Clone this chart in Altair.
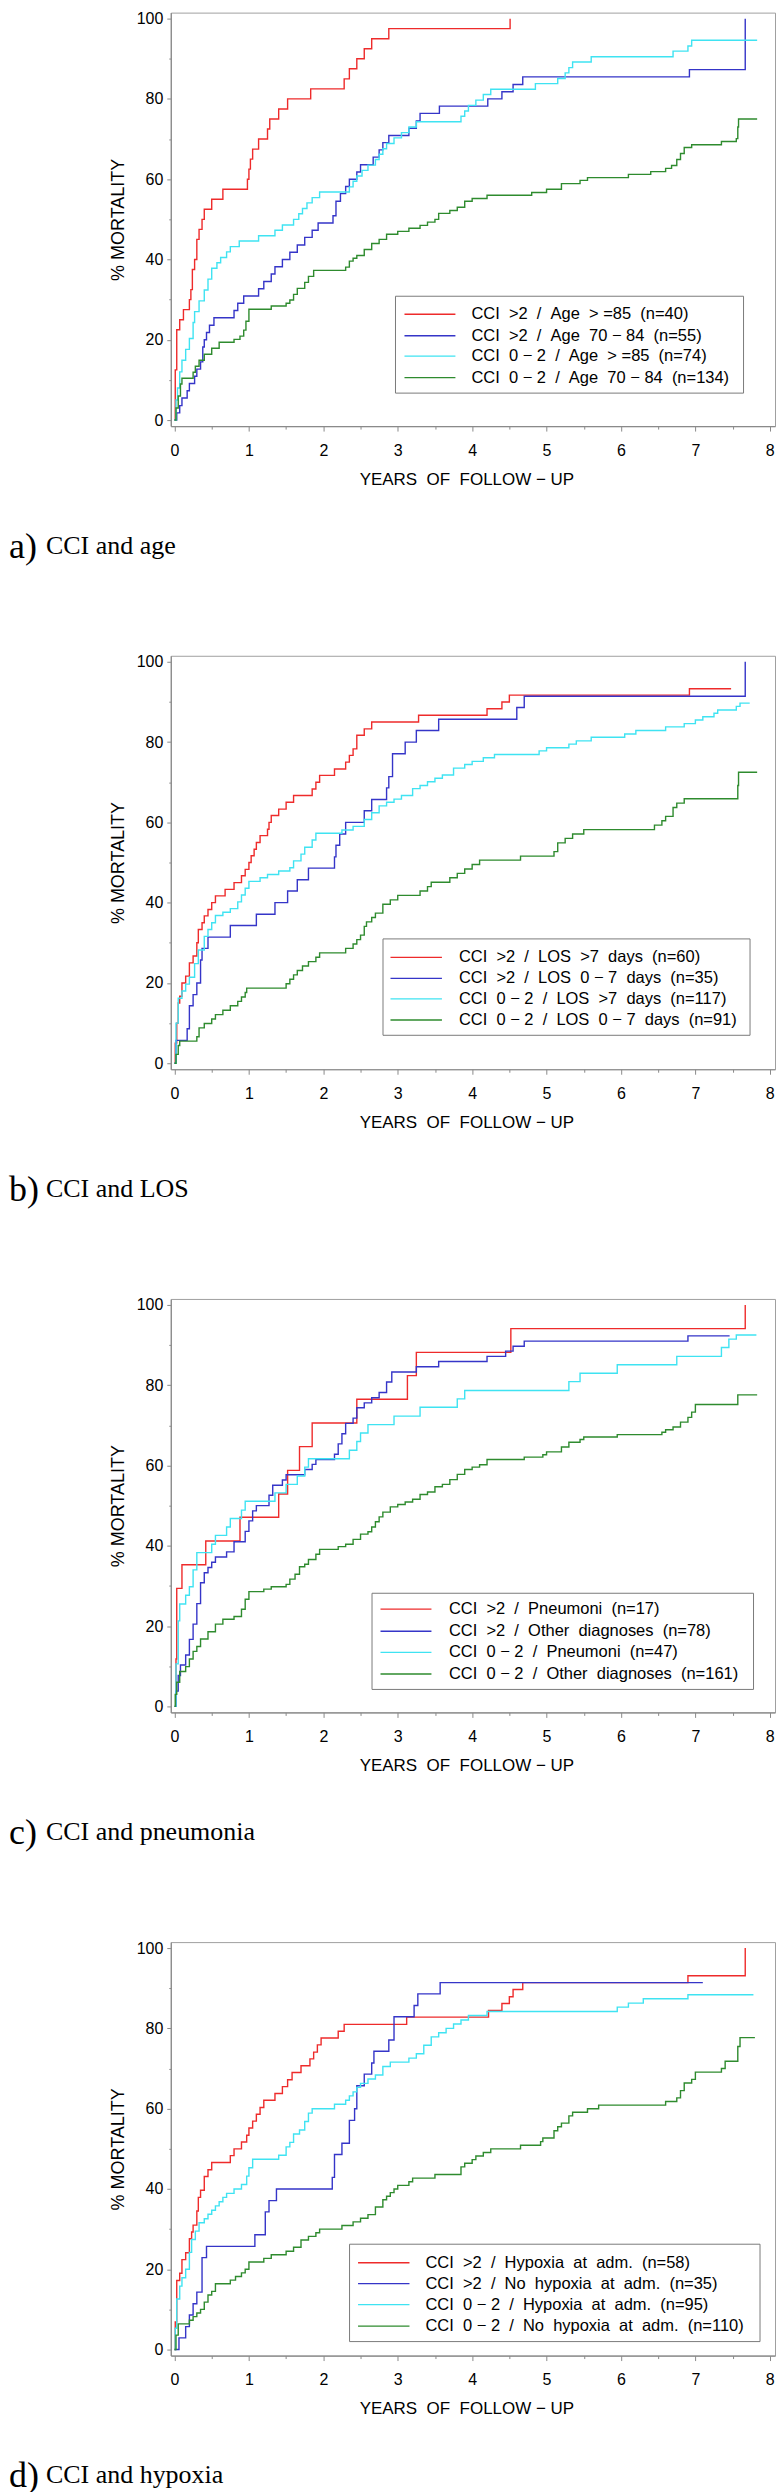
import altair as alt
import pandas as pd

# ---------------- data ----------------
COLORS = ["#EE2B2B", "#3535C8", "#3FE3F2", "#2E8B2E"]

# Panel a: CCI and age
A_LABELS = ["CCI  >2  /  Age  > =85  (n=40)", "CCI  >2  /  Age  70 − 84  (n=55)",
            "CCI  0 − 2  /  Age  > =85  (n=74)", "CCI  0 − 2  /  Age  70 − 84  (n=134)"]
A_RED_T = [0, 0.01, 0.03, 0.07, 0.12, 0.20, 0.22, 0.24, 0.27, 0.30, 0.33, 0.37, 0.40, 0.50, 0.65, 0.98, 1.00, 1.02, 1.05, 1.13, 1.25, 1.28, 1.40, 1.52, 1.83, 2.28, 2.35, 2.45, 2.55, 2.65, 2.88, 4.51]
A_RED_M = [0, 12.5, 22.5, 25, 27.5, 30, 32.5, 37.5, 40, 45, 47.5, 50, 52.5, 55, 57.5, 60, 62.5, 65, 67.5, 70, 72.5, 75, 77.5, 80, 82.5, 85, 87.5, 90, 92.5, 95, 97.5, 100]
A_BLUE_T = [0, 0.03, 0.07, 0.10, 0.17, 0.20, 0.27, 0.30, 0.35, 0.38, 0.40, 0.43, 0.47, 0.53, 0.80, 0.85, 0.93, 1.13, 1.20, 1.30, 1.35, 1.45, 1.55, 1.65, 1.75, 1.85, 1.93, 2.13, 2.17, 2.23, 2.30, 2.35, 2.45, 2.50, 2.67, 2.75, 2.80, 2.88, 3.15, 3.25, 3.30, 3.56, 4.21, 4.40, 4.55, 4.68, 6.92, 7.67]
A_BLUE_M = [0, 1.8, 3.6, 5.5, 7.3, 9.1, 10.9, 12.7, 14.5, 18.2, 20.0, 21.8, 23.6, 25.5, 27.3, 29.1, 30.9, 32.7, 34.5, 36.4, 38.2, 40.0, 41.8, 43.6, 45.5, 47.3, 49.1, 50.9, 54.5, 56.4, 58.2, 60.0, 61.8, 63.6, 65.5, 67.3, 69.1, 70.9, 72.7, 74.5, 76.4, 78.2, 80.0, 81.8, 83.6, 85.5, 87.3, 100]
A_CYAN_T = [0, 0.02, 0.04, 0.07, 0.10, 0.15, 0.20, 0.25, 0.27, 0.33, 0.40, 0.45, 0.50, 0.57, 0.62, 0.70, 0.75, 0.87, 1.13, 1.35, 1.45, 1.60, 1.67, 1.72, 1.78, 1.85, 1.95, 2.35, 2.40, 2.45, 2.52, 2.60, 2.70, 2.75, 2.80, 2.85, 2.95, 3.05, 3.15, 3.25, 3.85, 3.90, 3.95, 4.05, 4.15, 4.25, 4.85, 5.15, 5.25, 5.30, 5.35, 5.60, 6.70, 6.90, 6.95, 7.83]
A_CYAN_M = [0, 5, 8, 12, 14.9, 17.6, 20.3, 24.3, 27, 29.7, 32.4, 35.1, 37.8, 39.2, 40.5, 41.9, 43.2, 44.6, 45.9, 47.3, 48.6, 50.0, 51.4, 52.7, 54.1, 55.4, 56.8, 58.1, 59.5, 60.8, 62.2, 63.5, 64.9, 66.2, 67.6, 68.9, 70.3, 71.6, 73.0, 74.3, 75.7, 77.0, 78.4, 79.7, 81.1, 82.4, 83.8, 85.1, 86.5, 87.8, 89.2, 90.5, 91.9, 93.2, 94.6, 94.6]
A_GREEN_T = [0, 0.02, 0.05, 0.08, 0.10, 0.25, 0.28, 0.33, 0.40, 0.50, 0.60, 0.80, 0.88, 0.93, 0.96, 1.00, 1.30, 1.50, 1.55, 1.60, 1.65, 1.75, 1.80, 1.87, 2.30, 2.35, 2.40, 2.45, 2.55, 2.65, 2.75, 2.85, 3.00, 3.15, 3.30, 3.40, 3.50, 3.55, 3.70, 3.80, 3.90, 4.00, 4.20, 4.80, 5.00, 5.20, 5.45, 5.55, 6.10, 6.40, 6.60, 6.68, 6.75, 6.80, 6.85, 6.95, 7.35, 7.55, 7.57, 7.58, 7.83]
A_GREEN_M = [0, 3, 6, 9, 10.4, 11.9, 13.4, 14.9, 16.4, 17.9, 19.4, 20.1, 20.9, 22.4, 24.6, 27.6, 28.4, 29.1, 29.9, 31.3, 32.8, 34.3, 35.8, 37.3, 38.1, 39.6, 40.3, 41.0, 42.5, 44.0, 45.0, 46.3, 47.0, 47.8, 48.5, 49.3, 50.0, 51.5, 52.2, 53.0, 54.5, 55.2, 56.0, 56.7, 57.5, 58.9, 59.7, 60.4, 61.2, 61.9, 62.7, 63.4, 64.9, 66.4, 67.9, 68.6, 69.4, 70.1, 73.0, 75.0, 75.0]

# Panel b: CCI and LOS
B_LABELS = ["CCI  >2  /  LOS  >7  days  (n=60)", "CCI  >2  /  LOS  0 − 7  days  (n=35)",
            "CCI  0 − 2  /  LOS  >7  days  (n=117)", "CCI  0 − 2  /  LOS  0 − 7  days  (n=91)"]
B_RED_T = [0, 0.01, 0.03, 0.05, 0.07, 0.10, 0.15, 0.20, 0.25, 0.30, 0.32, 0.37, 0.40, 0.45, 0.50, 0.55, 0.68, 0.80, 0.90, 0.95, 1.00, 1.03, 1.07, 1.10, 1.15, 1.25, 1.27, 1.30, 1.40, 1.50, 1.60, 1.85, 1.90, 1.95, 2.15, 2.30, 2.35, 2.40, 2.45, 2.55, 2.65, 3.28, 4.20, 4.40, 4.50, 6.92, 7.48]
B_RED_M = [0, 5, 10, 15, 16.7, 20, 21.7, 25, 26.7, 30, 33.3, 35, 36.7, 38.3, 40, 41.7, 43.3, 45, 46.7, 48.3, 50, 51.7, 53.3, 55, 56.7, 58.3, 60, 61.7, 63.3, 65, 66.7, 68.3, 70, 71.7, 73.3, 75, 76.7, 78.3, 81.7, 83.3, 85, 86.7, 88.3, 90, 91.7, 93.3, 93.3]
B_BLUE_T = [0, 0.02, 0.17, 0.20, 0.25, 0.30, 0.35, 0.37, 0.45, 0.75, 1.10, 1.35, 1.52, 1.65, 1.80, 2.15, 2.17, 2.22, 2.30, 2.55, 2.65, 2.85, 2.88, 2.93, 3.10, 3.25, 3.55, 4.60, 4.70, 7.67]
B_BLUE_M = [0, 5.7, 8.6, 14.3, 17.1, 20.0, 25.7, 28.6, 31.4, 34.3, 37.1, 40.0, 42.9, 45.7, 48.6, 51.4, 54.3, 57.1, 60.0, 62.9, 65.7, 68.6, 71.4, 77.1, 80.0, 82.9, 85.7, 88.6, 91.4, 100]
B_CYAN_T = [0, 0.02, 0.05, 0.10, 0.15, 0.20, 0.27, 0.32, 0.40, 0.45, 0.50, 0.55, 0.65, 0.75, 0.85, 0.90, 0.95, 1.00, 1.15, 1.25, 1.40, 1.55, 1.60, 1.70, 1.75, 1.85, 1.90, 2.25, 2.40, 2.55, 2.65, 2.75, 2.85, 2.95, 3.05, 3.20, 3.30, 3.40, 3.50, 3.60, 3.75, 3.90, 4.00, 4.15, 4.30, 4.90, 5.00, 5.30, 5.40, 5.60, 6.05, 6.20, 6.60, 6.85, 7.00, 7.10, 7.25, 7.30, 7.55, 7.60, 7.73]
B_CYAN_M = [0, 10, 16.2, 18, 19.7, 21.4, 24.8, 28.2, 31.6, 33.3, 35.0, 36.8, 37.6, 38.5, 40.2, 41.9, 43.6, 45.3, 46.2, 47.0, 47.9, 48.7, 50.4, 52.1, 53.8, 55.6, 57.3, 58.1, 59.0, 60.7, 62.4, 64.1, 65.0, 65.8, 66.7, 68.4, 69.2, 70.1, 71.0, 71.8, 73.5, 74.4, 75.2, 76.1, 76.9, 77.8, 78.6, 79.5, 80.3, 81.2, 82.0, 82.9, 83.8, 84.6, 85.5, 86.3, 87.2, 88.0, 88.9, 89.7, 89.7]
B_GREEN_T = [0, 0.02, 0.05, 0.07, 0.30, 0.33, 0.40, 0.50, 0.55, 0.65, 0.75, 0.85, 0.90, 0.95, 0.97, 1.50, 1.55, 1.60, 1.65, 1.72, 1.80, 1.90, 1.95, 2.30, 2.40, 2.45, 2.50, 2.55, 2.58, 2.65, 2.70, 2.80, 2.90, 3.00, 3.30, 3.40, 3.45, 3.70, 3.80, 3.90, 4.00, 4.10, 4.65, 5.10, 5.15, 5.25, 5.35, 5.50, 6.45, 6.55, 6.60, 6.70, 6.75, 6.85, 7.57, 7.58, 7.83]
B_GREEN_M = [0, 2.2, 4.4, 5.5, 6.6, 8.8, 9.9, 11.0, 12.1, 13.2, 14.3, 15.4, 16.5, 17.6, 18.7, 19.8, 20.9, 22.0, 23.1, 24.2, 25.3, 26.4, 27.5, 28.6, 29.7, 30.8, 31.9, 34.1, 35.2, 36.3, 37.4, 39.6, 40.7, 41.8, 42.9, 44.0, 45.1, 46.2, 47.3, 48.4, 49.5, 50.6, 51.6, 52.7, 54.9, 56.0, 57.1, 58.2, 59.3, 60.4, 61.5, 63.7, 64.8, 65.9, 69.2, 72.5, 72.5]

# Panel c: CCI and pneumonia
C_LABELS = ["CCI  >2  /  Pneumoni  (n=17)", "CCI  >2  /  Other  diagnoses  (n=78)",
            "CCI  0 − 2  /  Pneumoni  (n=47)", "CCI  0 − 2  /  Other  diagnoses  (n=161)"]
C_RED_T = [0, 0.02, 0.03, 0.10, 0.42, 0.88, 1.40, 1.52, 1.68, 1.85, 2.45, 3.13, 3.25, 4.52, 7.67]
C_RED_M = [0, 11.8, 29.4, 35.3, 41.2, 47.1, 52.9, 58.8, 64.7, 70.6, 76.5, 82.4, 88.2, 94.1, 100]
C_BLUE_T = [0, 0.02, 0.05, 0.08, 0.15, 0.20, 0.25, 0.30, 0.35, 0.40, 0.45, 0.50, 0.55, 0.70, 0.80, 0.95, 1.00, 1.05, 1.10, 1.27, 1.32, 1.45, 1.50, 1.75, 1.85, 1.90, 2.15, 2.20, 2.25, 2.30, 2.40, 2.45, 2.55, 2.65, 2.75, 2.85, 2.92, 3.25, 3.55, 4.20, 4.45, 4.55, 4.70, 6.90, 7.46]
C_BLUE_M = [0, 3.8, 7.7, 10.3, 12.8, 16.7, 20.5, 25.6, 30.8, 33.3, 34.6, 35.9, 37.2, 38.5, 41.0, 43.6, 46.2, 48.7, 50.0, 52.6, 55.1, 56.4, 57.7, 59.0, 60.3, 61.5, 62.8, 65.4, 67.9, 70.5, 71.8, 74.4, 75.6, 76.9, 78.2, 80.8, 83.3, 84.6, 85.9, 87.2, 88.5, 89.7, 91.0, 92.3, 92.3]
C_CYAN_T = [0, 0.02, 0.05, 0.07, 0.15, 0.20, 0.25, 0.30, 0.50, 0.55, 0.70, 0.75, 0.90, 0.95, 1.35, 1.50, 1.65, 1.75, 1.80, 2.35, 2.45, 2.50, 2.60, 2.95, 3.30, 3.80, 3.90, 5.30, 5.45, 5.95, 6.75, 7.35, 7.45, 7.55, 7.82]
C_CYAN_M = [0, 10.6, 21.3, 25.5, 27.7, 29.8, 34.0, 38.3, 40.4, 42.6, 44.7, 46.8, 48.9, 51.1, 53.2, 55.3, 57.4, 59.6, 61.7, 63.8, 66.0, 68.1, 70.2, 72.3, 74.5, 76.6, 78.7, 80.9, 83.0, 85.1, 87.2, 89.4, 91.5, 92.5, 92.5]
C_GREEN_T = [0, 0.01, 0.03, 0.07, 0.15, 0.20, 0.25, 0.30, 0.35, 0.45, 0.55, 0.65, 0.80, 0.90, 0.95, 1.00, 1.20, 1.30, 1.50, 1.55, 1.62, 1.68, 1.75, 1.80, 1.90, 1.95, 2.20, 2.30, 2.40, 2.50, 2.60, 2.65, 2.70, 2.75, 2.80, 2.90, 3.00, 3.10, 3.20, 3.30, 3.40, 3.50, 3.60, 3.70, 3.80, 3.90, 4.00, 4.10, 4.20, 4.70, 4.95, 5.00, 5.20, 5.30, 5.45, 5.50, 5.95, 6.55, 6.60, 6.70, 6.80, 6.90, 6.95, 7.00, 7.57, 7.83]
C_GREEN_M = [0, 3.0, 6.0, 8.7, 9.9, 11.8, 13.7, 14.9, 16.8, 18.6, 20.5, 21.7, 22.4, 24.2, 26.7, 28.6, 29.2, 29.8, 30.4, 31.7, 32.9, 34.8, 35.4, 36.6, 37.9, 39.1, 39.8, 40.4, 41.6, 42.9, 43.5, 44.7, 46.0, 47.2, 48.4, 49.7, 50.3, 50.9, 51.6, 52.8, 53.4, 54.7, 55.3, 56.5, 57.8, 59.0, 59.6, 60.2, 61.5, 62.1, 62.7, 63.4, 64.6, 65.8, 66.5, 67.1, 67.7, 68.3, 68.9, 69.6, 70.8, 72.0, 73.3, 75.2, 77.6, 77.6]

# Panel d: CCI and hypoxia
D_LABELS = ["CCI  >2  /  Hypoxia  at  adm.  (n=58)", "CCI  >2  /  No  hypoxia  at  adm.  (n=35)",
            "CCI  0 − 2  /  Hypoxia  at  adm.  (n=95)", "CCI  0 − 2  /  No  hypoxia  at  adm.  (n=110)"]
D_RED_T = [0, 0.01, 0.03, 0.07, 0.10, 0.15, 0.20, 0.23, 0.25, 0.30, 0.32, 0.35, 0.40, 0.45, 0.50, 0.75, 0.80, 0.90, 0.97, 1.00, 1.05, 1.10, 1.15, 1.20, 1.35, 1.45, 1.52, 1.58, 1.70, 1.82, 1.87, 1.92, 1.97, 2.20, 2.28, 3.12, 4.22, 4.40, 4.50, 4.55, 4.68, 6.90, 7.67]
D_RED_M = [0, 6.9, 17.2, 19.0, 22.4, 24.1, 27.6, 29.3, 31.0, 34.5, 37.9, 39.7, 43.1, 44.8, 46.6, 48.3, 50.0, 51.7, 53.4, 55.2, 56.9, 58.6, 60.3, 62.1, 63.8, 65.5, 67.2, 69.0, 70.7, 72.4, 74.1, 75.9, 77.6, 79.3, 81.0, 82.8, 84.5, 86.2, 87.9, 89.7, 91.4, 93.1, 100]
D_BLUE_T = [0, 0.06, 0.15, 0.20, 0.25, 0.30, 0.37, 0.43, 1.08, 1.22, 1.27, 1.37, 2.12, 2.15, 2.25, 2.35, 2.42, 2.45, 2.55, 2.65, 2.68, 2.88, 2.95, 3.22, 3.27, 3.57, 7.10]
D_BLUE_M = [0, 2.9, 5.7, 8.6, 11.4, 14.3, 22.9, 25.7, 28.6, 34.3, 37.1, 40.0, 42.9, 48.6, 51.4, 57.1, 60.0, 65.7, 68.6, 71.4, 74.3, 77.1, 82.9, 85.7, 88.6, 91.4, 91.4]
D_CYAN_T = [0, 0.01, 0.03, 0.07, 0.10, 0.15, 0.20, 0.23, 0.28, 0.33, 0.40, 0.45, 0.50, 0.55, 0.60, 0.65, 0.70, 0.80, 0.90, 0.97, 1.00, 1.05, 1.40, 1.50, 1.55, 1.60, 1.68, 1.75, 1.80, 1.85, 2.15, 2.30, 2.35, 2.40, 2.45, 2.50, 2.60, 2.70, 2.80, 2.90, 3.15, 3.25, 3.35, 3.45, 3.55, 3.65, 3.75, 3.85, 3.95, 4.20, 5.95, 6.10, 6.30, 6.90, 7.78]
D_CYAN_M = [0, 5.3, 12.6, 15.8, 17.9, 20.0, 24.2, 27.4, 29.5, 31.6, 32.6, 33.7, 34.7, 35.8, 36.8, 37.9, 38.9, 40.0, 41.1, 43.2, 45.3, 47.4, 48.4, 50.5, 51.6, 53.7, 54.7, 56.8, 58.9, 60.0, 61.1, 62.1, 63.2, 64.2, 65.3, 66.3, 67.4, 68.4, 70.5, 71.6, 72.6, 73.7, 75.8, 77.9, 78.9, 80.0, 81.1, 82.1, 83.2, 84.2, 85.3, 86.3, 87.4, 88.4, 88.4]
D_GREEN_T = [0, 0.02, 0.05, 0.20, 0.25, 0.30, 0.35, 0.40, 0.45, 0.50, 0.55, 0.75, 0.82, 0.90, 0.95, 1.00, 1.20, 1.30, 1.50, 1.60, 1.70, 1.80, 1.90, 1.95, 2.25, 2.40, 2.50, 2.60, 2.70, 2.80, 2.85, 2.90, 2.95, 3.00, 3.15, 3.20, 3.50, 3.85, 3.90, 4.00, 4.05, 4.15, 4.25, 4.65, 4.92, 4.95, 5.10, 5.15, 5.20, 5.30, 5.35, 5.55, 5.70, 6.60, 6.75, 6.80, 6.85, 6.95, 7.00, 7.35, 7.40, 7.57, 7.60, 7.80]
D_GREEN_M = [0, 3.6, 6.4, 7.3, 8.2, 9.1, 10.0, 11.8, 13.6, 14.5, 16.4, 17.3, 18.2, 19.1, 20.0, 21.8, 22.7, 23.6, 24.5, 25.5, 27.3, 28.2, 29.1, 30.0, 30.9, 31.8, 32.7, 33.6, 35.5, 37.3, 38.2, 39.1, 40.0, 40.9, 41.8, 42.7, 43.6, 45.5, 46.4, 47.3, 48.2, 49.1, 50.0, 50.9, 51.8, 52.7, 54.5, 55.5, 56.4, 58.2, 59.1, 60.0, 60.9, 61.8, 62.7, 64.5, 66.4, 67.3, 69.1, 70.0, 71.8, 75.5, 77.7, 77.7]

X_TICKS = [i / 2 for i in range(17)]
Y_TICKS = [i * 10 for i in range(11)]
X_TITLE = "YEARS  OF  FOLLOW − UP"
Y_TITLE = "% MORTALITY"

# ---------------- layout / style ----------------
W, H = 605, 414
SANS = "Liberation Sans"
SERIF = "Liberation Serif"
NB = "\u00a0"  # keep the wide spacing of the original (SVG collapses plain spaces)


def keep_spaces(s):
    return s.replace(" ", NB)


def panel(series, labels, letter, caption, box, rows, rule_x, label_x):
    shown = [keep_spaces(s) for s in labels]
    frames = []
    for k, (t, m) in enumerate(series):
        frames.append(pd.DataFrame({"t": t, "m": m, "series": shown[k], "i": range(len(t))}))
    df = pd.concat(frames, ignore_index=True)

    xs = alt.Scale(domain=[-0.05, 8.07], nice=False, zero=False)
    ys = alt.Scale(domain=[-1.5, 101.5], nice=False, zero=False)
    xaxis = alt.Axis(values=X_TICKS, labelExpr="datum.value % 1 ? '' : '' + datum.value",
                     tickSize={"condition": {"test": "datum.value % 1 !== 0", "value": 3}, "value": 5},
                     labelOverlap=False, labelFlush=False, labelFontSize=16, labelPadding=11,
                     title=keep_spaces(X_TITLE), titleFontSize=17, titlePadding=13,
                     titleX=296, titleAlign="center", grid=False)
    yaxis = alt.Axis(values=Y_TICKS, labelExpr="datum.value % 20 ? '' : '' + datum.value",
                     tickSize={"condition": {"test": "datum.value % 20 !== 0", "value": 2}, "value": 4},
                     labelOverlap=False, labelFlush=False, labelFontSize=16, labelPadding=4,
                     title=Y_TITLE, titleFontSize=18, titlePadding=9, grid=False)

    one = pd.DataFrame({"k": [0]})
    layers = []
    # legend frame
    layers.append(alt.Chart(one).mark_rect(fillOpacity=0, stroke="#7a7a7a", strokeWidth=1).encode(
        x=alt.value(box[0]), x2=alt.value(box[1]), y=alt.value(box[2]), y2=alt.value(box[3])))
    # curves
    layers.append(alt.Chart(df).mark_line(interpolate="step-after", strokeWidth=1.4).encode(
        x=alt.X("t:Q", scale=xs, axis=xaxis),
        y=alt.Y("m:Q", scale=ys, axis=yaxis),
        color=alt.Color("series:N", scale=alt.Scale(domain=shown, range=COLORS), legend=None),
        order="i:Q"))
    # legend entries
    for k, lab in enumerate(shown):
        row = pd.DataFrame({"label": [lab]})
        layers.append(alt.Chart(row).mark_rule(color=COLORS[k], strokeWidth=1.4).encode(
            x=alt.value(rule_x[0]), x2=alt.value(rule_x[1]), y=alt.value(rows[k])))
        layers.append(alt.Chart(row).mark_text(align="left", baseline="middle", font=SANS,
                                               fontSize=16.5, color="black").encode(
            x=alt.value(label_x), y=alt.value(rows[k]), text="label:N"))
    # caption below the panel
    cap = pd.DataFrame({"letter": [letter], "caption": [caption]})
    layers.append(alt.Chart(cap).mark_text(align="left", baseline="alphabetic", font=SERIF,
                                           fontSize=36, color="black").encode(
        x=alt.value(-162), y=alt.value(546), text="letter:N"))
    layers.append(alt.Chart(cap).mark_text(align="left", baseline="alphabetic", font=SERIF,
                                           fontSize=26, color="black").encode(
        x=alt.value(-125), y=alt.value(542), text="caption:N"))
    return alt.layer(*layers).properties(width=W, height=H)


pa = panel([(A_RED_T, A_RED_M), (A_BLUE_T, A_BLUE_M), (A_CYAN_T, A_CYAN_M), (A_GREEN_T, A_GREEN_M)],
           A_LABELS, "a)", "CCI and age",
           box=(225, 573.5, 284, 381), rows=[302, 323.5, 344, 365.5], rule_x=(234, 285), label_x=301)
pb = panel([(B_RED_T, B_RED_M), (B_BLUE_T, B_BLUE_M), (B_CYAN_T, B_CYAN_M), (B_GREEN_T, B_GREEN_M)],
           B_LABELS, "b)", "CCI and LOS",
           box=(212.5, 580, 283.5, 380), rows=[302, 323, 343.5, 364.7], rule_x=(220, 271.5), label_x=288.5)
pc = panel([(C_RED_T, C_RED_M), (C_BLUE_T, C_BLUE_M), (C_CYAN_T, C_CYAN_M), (C_GREEN_T, C_GREEN_M)],
           C_LABELS, "c)", "CCI and pneumonia",
           box=(201.5, 583.5, 294.7, 391), rows=[310.6, 332.7, 353.9, 375.5], rule_x=(210, 261), label_x=278.5)
pd_ = panel([(D_RED_T, D_RED_M), (D_BLUE_T, D_BLUE_M), (D_CYAN_T, D_CYAN_M), (D_GREEN_T, D_GREEN_M)],
            D_LABELS, "d)", "CCI and hypoxia",
            box=(179, 590, 302.5, 400), rows=[321, 342, 363, 384.5], rule_x=(187.5, 239), label_x=255)

chart = alt.VConcatChart(vconcat=[pa, pb, pc, pd_], spacing=230, bounds="flush").properties(
    padding={"left": 0, "top": 0, "right": 0, "bottom": 0}
).configure_view(stroke="#a0a0a0", strokeWidth=1).configure_axis(
    domainColor="#8a8a8a", tickColor="#8a8a8a", labelColor="black", titleColor="black",
    labelFont=SANS, titleFont=SANS, titleFontWeight="normal", domainWidth=1.2
)

chart.save("out.html", embed_options={"renderer": "svg", "actions": False})
